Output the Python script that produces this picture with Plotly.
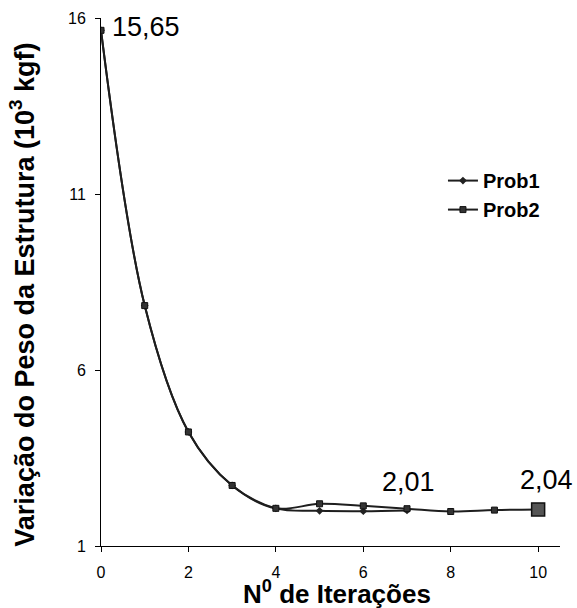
import plotly.graph_objects as go

# Data
iter_prob1 = [0, 1, 2, 3, 4, 5, 6, 7]
peso_prob1 = [15.65, 7.83, 4.24, 2.72, 2.07, 2.00, 1.99, 2.01]
iter_prob2 = [0, 1, 2, 3, 4, 5, 6, 7, 8, 9, 10]
peso_prob2 = [15.65, 7.83, 4.24, 2.72, 2.07, 2.20, 2.14, 2.06, 1.98, 2.02, 2.04]
y_ticks = [1, 6, 11, 16]
x_ticks = [0, 2, 4, 6, 8, 10]
labels = ["15,65", "2,01", "2,04"]
x_title = "N<sup>0</sup> de Iterações"
y_title = "Variação do Peso da Estrutura (10<sup>3</sup> kgf)"

FONT = "Liberation Sans, Arial, sans-serif"
LINE_C = "#1e1e1e"

fig = go.Figure()

fig.add_trace(go.Scatter(
    x=iter_prob1, y=peso_prob1, name="Prob1", mode="lines+markers",
    line=dict(color=LINE_C, width=2, shape="spline"),
    marker=dict(symbol="diamond", size=6, color="#222"),
))
fig.add_trace(go.Scatter(
    x=iter_prob2, y=peso_prob2, name="Prob2", mode="lines+markers",
    line=dict(color=LINE_C, width=2, shape="spline"),
    marker=dict(symbol="square", size=6, color="#333", line=dict(color="#111", width=1)),
))
# highlighted final point of Prob2
fig.add_trace(go.Scatter(
    x=[iter_prob2[-1]], y=[peso_prob2[-1]], mode="markers", showlegend=False,
    marker=dict(symbol="square", size=13, color="#555", line=dict(color="#111", width=1.5)),
    hoverinfo="skip",
))

fig.add_annotation(x=iter_prob1[0], y=peso_prob1[0], text=labels[0], showarrow=False,
                   xanchor="left", yanchor="middle", xshift=9, yshift=3,
                   font=dict(family=FONT, size=27, color="black"))
fig.add_annotation(x=iter_prob1[-1], y=peso_prob1[-1], text=labels[1], showarrow=False,
                   xanchor="center", yanchor="bottom", xshift=1, yshift=11,
                   font=dict(family=FONT, size=27, color="black"))
fig.add_annotation(x=iter_prob2[-1], y=peso_prob2[-1], text=labels[2], showarrow=False,
                   xanchor="center", yanchor="bottom", xshift=8, yshift=12,
                   font=dict(family=FONT, size=27, color="black"))

# axis titles
fig.add_annotation(xref="paper", yref="paper", x=0.514, y=0, yshift=-46,
                   text=x_title, showarrow=False, xanchor="center", yanchor="middle",
                   font=dict(family=FONT, size=26, weight="bold", color="black"))
fig.add_annotation(xref="paper", yref="paper", x=0, y=0.476, xshift=-79,
                   text=y_title, showarrow=False, textangle=-90,
                   xanchor="center", yanchor="middle",
                   font=dict(family=FONT, size=27, weight="bold", color="black"))

fig.update_layout(
    width=577, height=608,
    margin=dict(l=101, r=17, t=18, b=62, autoexpand=False),
    paper_bgcolor="white", plot_bgcolor="white",
    font=dict(family=FONT, color="black"),
    showlegend=True,
    legend=dict(x=0.745, y=0.729, xanchor="left", yanchor="top",
                bgcolor="rgba(0,0,0,0)",
                font=dict(family=FONT, size=20, color="black", weight="bold")),
    xaxis=dict(
        range=[0, 10.5], tickvals=x_ticks, showgrid=False, zeroline=False,
        showline=True, linecolor="black", linewidth=1, automargin=False,
        ticks="outside", ticklen=5, tickcolor="black",
        tickfont=dict(size=16, color="black"), ticklabelstandoff=7,
    ),
    yaxis=dict(
        range=[1, 16], tickvals=y_ticks, showgrid=False, zeroline=False,
        showline=True, linecolor="black", linewidth=1, automargin=False,
        ticks="outside", ticklen=5, tickcolor="black",
        tickfont=dict(size=16, color="black"), ticklabelstandoff=6,
    ),
)

fig.write_html("out.html", config={"displayModeBar": False},
               post_script="document.body.style.margin='0';document.body.style.overflow='hidden';")
